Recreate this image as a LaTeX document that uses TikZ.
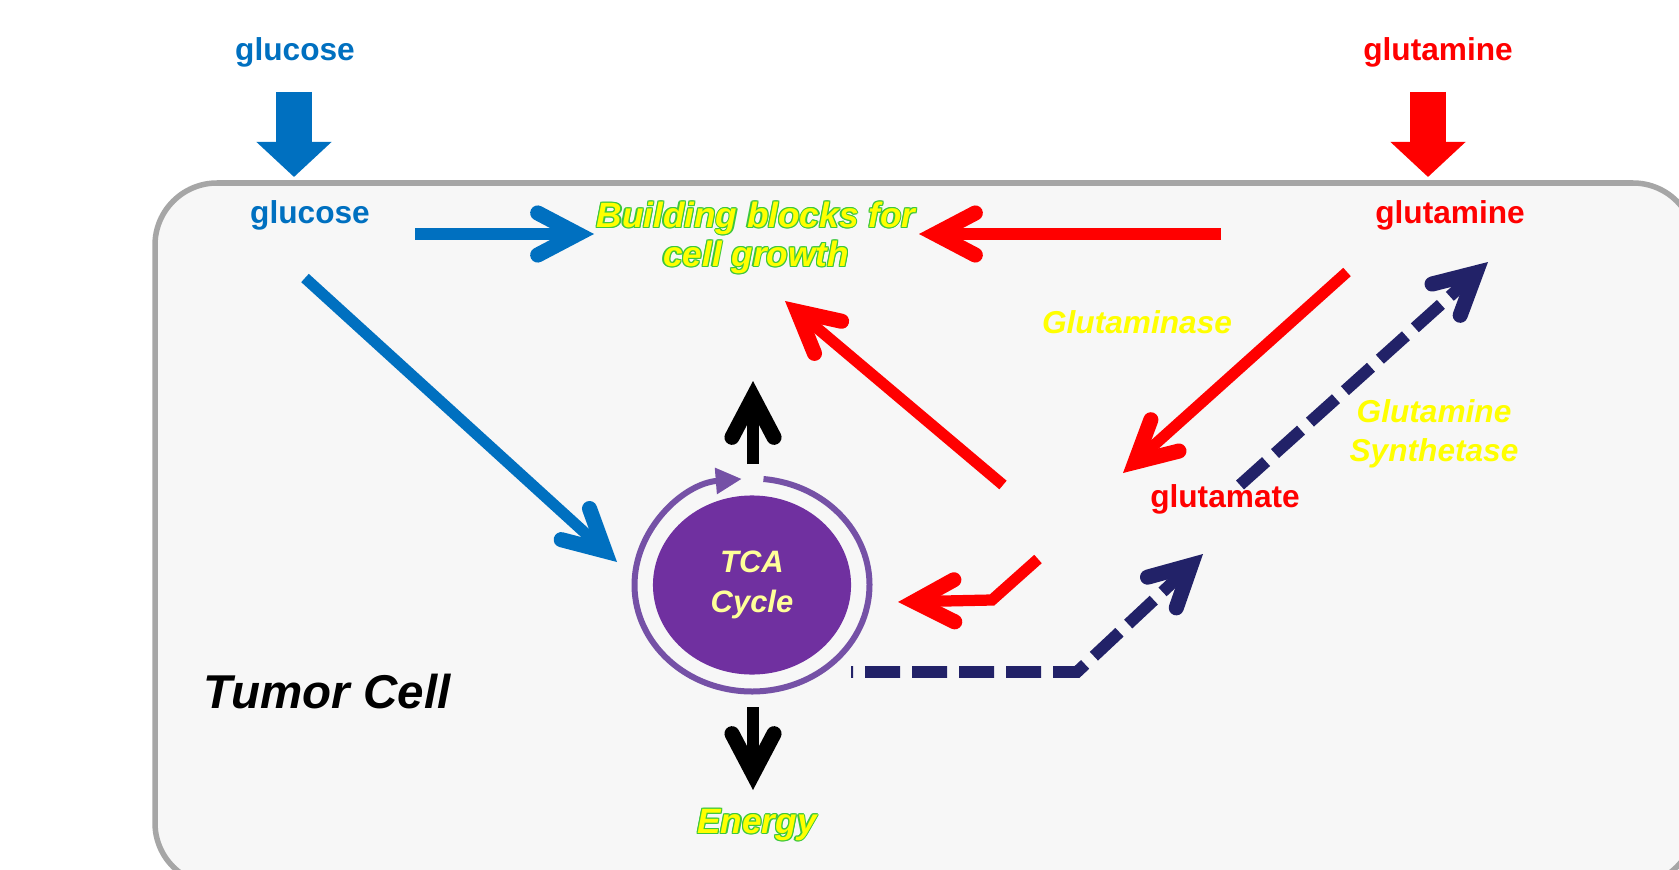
\documentclass[tikz,border=0pt]{standalone}
\usepackage{fontspec}
\setmainfont{Liberation Sans}
\usetikzlibrary{arrows.meta, shapes.geometric}

\definecolor{glublue}{HTML}{0070C0}
\definecolor{glnred}{HTML}{FF0000}
\definecolor{gsnavy}{HTML}{222268}
\definecolor{tcapurple}{HTML}{7030A0}
\definecolor{tcaring}{HTML}{7551A6}
\definecolor{tcatext}{HTML}{FFFF99}
\definecolor{glowgreen}{HTML}{3CC83C}
\definecolor{enzyellow}{HTML}{FFFF00}
\definecolor{cellfill}{HTML}{F7F7F7}
\definecolor{cellline}{HTML}{A6A6A6}

% yellow text with a thin green rim
\newcommand{\glowtxt}[1]{\leavevmode
  \foreach \gx/\gy in {-.35pt/0pt, .35pt/0pt, 0pt/.35pt, 0pt/-.35pt, -.25pt/.25pt, .25pt/.25pt, -.25pt/-.25pt, .25pt/-.25pt}
    {\rlap{\kern\gx\raisebox{\gy}{\color{glowgreen}#1}}}%
  {\color{enzyellow}#1}}

\begin{document}
\begin{tikzpicture}
  [x=0.01cm, y=-0.01cm,
   lbl/.style={font=\fontsize{9}{11}\selectfont\bfseries, inner sep=0pt},
   enz/.style={font=\fontsize{9}{11}\selectfont\bfseries\itshape, text=enzyellow, align=center, inner sep=0pt},
   glow/.style={font=\fontsize{10}{11}\selectfont\bfseries\itshape, align=center, inner sep=0pt},
   flow/.style={line width=3.2pt, -{Straight Barb[length=0.4cm, width=0.42cm, line width=4.3pt, line cap=round, line join=miter]}},
   dashflow/.style={flow, line width=3.4pt, dash pattern=on 0.35cm off 0.12cm},
   block/.style={line width=0.36cm, -{Triangle[length=0.35cm, width=0.73cm]}}]
  \useasboundingbox (0,0) rectangle (1679,870);
  \fill[white] (0,0) rectangle (1679,870);
  \begin{scope}
    \clip (0,0) rectangle (1679,870);
    \draw[cellline, fill=cellfill, line width=0.055cm, rounded corners=0.62cm] (155,183) rectangle (1695,885);
  \end{scope}

  % labels
  \node[lbl, text=glublue] (gluout) at (295,52) {glucose};
  \node[lbl, text=glublue] (glu) at (310,215) {glucose};
  \node[lbl, text=glnred] (glnout) at (1438,52) {glutamine};
  \node[lbl, text=glnred] (gln) at (1450,215) {glutamine};
  \node[lbl, text=glnred] (glt) at (1225,499) {glutamate};
  \node[enz] (gls) at (1137,322) {Glutaminase};
  \node[enz] (gs) at (1434,434) {Glutamine\\Synthetase};
  \node[glow] (blocks) at (756,238) {\glowtxt{Building blocks for}\\\glowtxt{cell growth}};
  \node[glow] (energy) at (757,825) {\glowtxt{Energy}};
  \node[font=\fontsize{13.5}{16}\selectfont\bfseries\itshape, inner sep=0pt] (cell) at (327,692) {Tumor Cell};
  \node[ellipse, fill=tcapurple, minimum width=1.98cm, minimum height=1.79cm, inner sep=0pt,
        text=tcatext, font=\fontsize{8.8}{11.6}\selectfont\bfseries\itshape, align=center] (tca) at (752,585) {TCA\\Cycle};
  \draw[tcaring, line width=0.06cm, -{Triangle[length=0.26cm, width=0.25cm]}]
    (tca.center) ++(-84.4:117.5 and 106.5) arc[start angle=-84.4, end angle=265, x radius=117.5, y radius=106.5];

  % arrow ends
  \coordinate (gluin) at (294,92);   \coordinate (glutip) at (294,177);
  \coordinate (glnin) at (1428,92);  \coordinate (glntip) at (1428,177);
  \coordinate (glu-a) at (415,234);  \coordinate (blocks-a) at (594,234);
  \coordinate (glu-b) at (305,278);  \coordinate (tca-a) at (617,562);
  \coordinate (gln-a) at (1221,234); \coordinate (blocks-b) at (919,234);
  \coordinate (gln-b) at (1347,272); \coordinate (glt-a) at (1123,473);
  \coordinate (glt-b) at (1003,485); \coordinate (blocks-c) at (785,301);
  \coordinate (glt-c) at (1038,559); \coordinate (bend-a) at (992,600); \coordinate (tca-b) at (898,602);
  \coordinate (glt-d) at (1240,485); \coordinate (gln-c) at (1488,262);
  \coordinate (tca-c) at (851,672);  \coordinate (bend-b) at (1077,672); \coordinate (glt-e) at (1203,554);
  \coordinate (tca-up) at (753,464); \coordinate (tca-uptip) at (753,381);
  \coordinate (tca-dn) at (753,707); \coordinate (energy-a) at (753,790);

  \draw[block, glublue] (gluin) -- (glutip);
  \draw[block, glnred] (glnin) -- (glntip);
  \draw[flow, glublue] (glu-a) -- (blocks-a);
  \draw[flow, glublue] (glu-b) -- (tca-a);
  \draw[flow, glnred] (gln-a) -- (blocks-b);
  \draw[flow, glnred] (gln-b) -- (glt-a);
  \draw[flow, glnred] (glt-b) -- (blocks-c);
  \draw[flow, glnred] (glt-c) -- (bend-a) -- (tca-b);
  \draw[dashflow, gsnavy] (glt-d) -- (gln-c);
  \draw[dashflow, gsnavy, dash phase=0.33cm] (tca-c) -- (bend-b) -- (glt-e);
  \draw[flow] (tca-up) -- (tca-uptip);
  \draw[flow] (tca-dn) -- (energy-a);
\end{tikzpicture}
\end{document}
